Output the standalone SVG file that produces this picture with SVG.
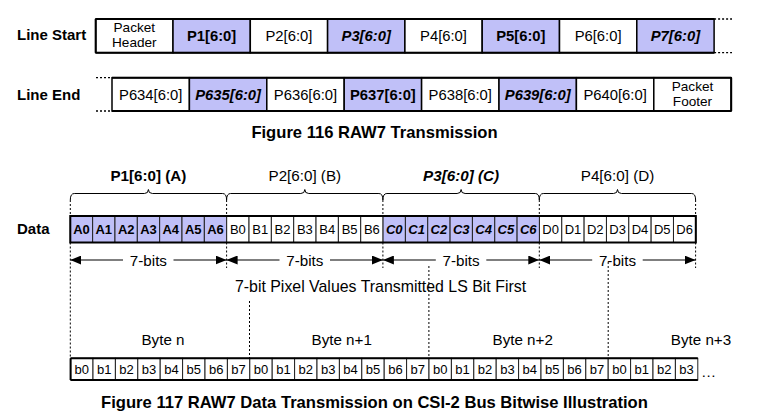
<svg xmlns="http://www.w3.org/2000/svg" width="778" height="420" viewBox="0 0 778 420">
<defs>
<style>
text{font-family:"Liberation Sans",Arial,sans-serif;fill:#000}
.lbl{font-size:15px;font-weight:bold}
.cap{font-size:16.6px;font-weight:bold;text-anchor:middle}
.ct{font-size:14.8px;text-anchor:middle}
.b{font-weight:bold}
.bi{font-weight:bold;font-style:italic}
.hd{font-size:13.6px;text-anchor:middle}
.dt{font-size:13px;text-anchor:middle}
.pl{font-size:15.2px;text-anchor:middle}
.cw{fill:#fff;stroke:#000;stroke-width:1.5}
.cp{fill:#c0c0f8;stroke:#000;stroke-width:1.5}
.dc{fill:#fff;stroke:#222;stroke-width:1}
.dp{fill:#c0c0f8;stroke:#222;stroke-width:1}
.outer{fill:none;stroke:#000;stroke-width:2}
.dot{stroke:#000;stroke-width:1;stroke-dasharray:2,2;fill:none}
.dot2{stroke:#000;stroke-width:1.3;stroke-dasharray:2,2;fill:none}
.ln{stroke:#000;stroke-width:1.2;fill:none}
.brace{stroke:#000;stroke-width:1;fill:none}
</style>
<marker id="ah" viewBox="0 0 11 9" refX="11" refY="4.5" markerWidth="11" markerHeight="9" markerUnits="userSpaceOnUse" orient="auto-start-reverse">
<path d="M0,0 L11,4.5 L0,9 Z" fill="#000"/>
</marker>
</defs>

<!-- Row labels -->
<text class="lbl" x="17" y="40">Line Start</text>
<text class="lbl" x="17" y="100">Line End</text>
<text class="lbl" x="17" y="234">Data</text>

<!-- Line Start row -->
<g id="ls-header"><rect class="cw" x="95.7" y="19" width="77.3" height="33.7"/><text class="hd" x="134.3" y="32">Packet</text><text class="hd" x="134.3" y="47">Header</text></g>
<g id="ls-p1"><rect class="cp" x="173" y="19" width="77.3" height="33.7"/><text class="ct b" x="211.6" y="41.3">P1[6:0]</text></g>
<g id="ls-p2"><rect class="cw" x="250.3" y="19" width="77.3" height="33.7"/><text class="ct" x="288.9" y="41.3">P2[6:0]</text></g>
<g id="ls-p3"><rect class="cp" x="327.6" y="19" width="77.3" height="33.7"/><text class="ct bi" x="366.2" y="41.3">P3[6:0]</text></g>
<g id="ls-p4"><rect class="cw" x="404.9" y="19" width="77.3" height="33.7"/><text class="ct" x="443.5" y="41.3">P4[6:0]</text></g>
<g id="ls-p5"><rect class="cp" x="482.2" y="19" width="77.3" height="33.7"/><text class="ct b" x="520.8" y="41.3">P5[6:0]</text></g>
<g id="ls-p6"><rect class="cw" x="559.5" y="19" width="77.3" height="33.7"/><text class="ct" x="598.1" y="41.3">P6[6:0]</text></g>
<g id="ls-p7"><rect class="cp" x="636.8" y="19" width="77.3" height="33.7"/><text class="ct bi" x="675.4" y="41.3">P7[6:0]</text></g>
<path class="outer" d="M95.7,19 H714.1 M95.7,52.7 H714.1 M95.7,19 V52.7"/>
<path class="dot2" d="M714.1,19 H732 M714.1,52.7 H732"/>

<!-- Line End row -->
<g id="le-p634"><rect class="cw" x="112" y="77.7" width="77.4" height="33.3"/><text class="ct" x="150.7" y="99.7">P634[6:0]</text></g>
<g id="le-p635"><rect class="cp" x="189.4" y="77.7" width="77.4" height="33.3"/><text class="ct bi" x="228.1" y="99.7">P635[6:0]</text></g>
<g id="le-p636"><rect class="cw" x="266.8" y="77.7" width="77.4" height="33.3"/><text class="ct" x="305.5" y="99.7">P636[6:0]</text></g>
<g id="le-p637"><rect class="cp" x="344.2" y="77.7" width="77.4" height="33.3"/><text class="ct b" x="382.9" y="99.7">P637[6:0]</text></g>
<g id="le-p638"><rect class="cw" x="421.6" y="77.7" width="77.4" height="33.3"/><text class="ct" x="460.3" y="99.7">P638[6:0]</text></g>
<g id="le-p639"><rect class="cp" x="499" y="77.7" width="77.4" height="33.3"/><text class="ct bi" x="537.7" y="99.7">P639[6:0]</text></g>
<g id="le-p640"><rect class="cw" x="576.4" y="77.7" width="77.4" height="33.3"/><text class="ct" x="615.1" y="99.7">P640[6:0]</text></g>
<g id="le-footer"><rect class="cw" x="653.8" y="77.7" width="77.4" height="33.3"/><text class="hd" x="692.5" y="90.7">Packet</text><text class="hd" x="692.5" y="105.7">Footer</text></g>
<path class="outer" d="M112,77.7 H731.2 M112,111 H731.2 M731.2,77.7 V111"/>
<path class="dot2" d="M96,77.7 H112 M96,111 H112"/>

<text class="cap" x="374.5" y="137.5">Figure 116 RAW7 Transmission</text>

<!-- Pixel labels -->
<text class="pl b" x="148.4" y="181">P1[6:0] (A)</text>
<text class="pl" x="304.8" y="181">P2[6:0] (B)</text>
<text class="pl bi" x="461.1" y="181">P3[6:0] (C)</text>
<text class="pl" x="617.5" y="181">P4[6:0] (D)</text>

<!-- Braces -->
<g id="braces">
<path class="brace" d="M70.3,200 Q70.3,193.5 74.3,193.5 H144.4 Q148.4,193.5 148.4,189.5 Q148.4,193.5 152.4,193.5 H222.6 Q226.6,193.5 226.6,200"/>
<path class="brace" d="M226.6,200 Q226.6,193.5 230.6,193.5 H300.8 Q304.8,193.5 304.8,189.5 Q304.8,193.5 308.8,193.5 H378.9 Q382.9,193.5 382.9,200"/>
<path class="brace" d="M382.9,200 Q382.9,193.5 386.9,193.5 H457.1 Q461.1,193.5 461.1,189.5 Q461.1,193.5 465.1,193.5 H535.3 Q539.3,193.5 539.3,200"/>
<path class="brace" d="M539.3,200 Q539.3,193.5 543.3,193.5 H613.5 Q617.5,193.5 617.5,189.5 Q617.5,193.5 621.5,193.5 H691.6 Q695.6,193.5 695.6,200"/>
</g>

<!-- Data cells -->
<g id="data-a">
<rect class="dp" x="70.3" y="216" width="22.34" height="26.5"/><text class="dt b" x="81.5" y="234">A0</text>
<rect class="dp" x="92.64" y="216" width="22.34" height="26.5"/><text class="dt b" x="103.8" y="234">A1</text>
<rect class="dp" x="114.98" y="216" width="22.34" height="26.5"/><text class="dt b" x="126.2" y="234">A2</text>
<rect class="dp" x="137.32" y="216" width="22.34" height="26.5"/><text class="dt b" x="148.5" y="234">A3</text>
<rect class="dp" x="159.66" y="216" width="22.34" height="26.5"/><text class="dt b" x="170.8" y="234">A4</text>
<rect class="dp" x="182" y="216" width="22.34" height="26.5"/><text class="dt b" x="193.2" y="234">A5</text>
<rect class="dp" x="204.34" y="216" width="22.34" height="26.5"/><text class="dt b" x="215.5" y="234">A6</text>
</g>
<g id="data-b">
<rect class="dc" x="226.68" y="216" width="22.34" height="26.5"/><text class="dt" x="237.9" y="234">B0</text>
<rect class="dc" x="249.02" y="216" width="22.34" height="26.5"/><text class="dt" x="260.2" y="234">B1</text>
<rect class="dc" x="271.36" y="216" width="22.34" height="26.5"/><text class="dt" x="282.5" y="234">B2</text>
<rect class="dc" x="293.7" y="216" width="22.34" height="26.5"/><text class="dt" x="304.9" y="234">B3</text>
<rect class="dc" x="316.04" y="216" width="22.34" height="26.5"/><text class="dt" x="327.2" y="234">B4</text>
<rect class="dc" x="338.38" y="216" width="22.34" height="26.5"/><text class="dt" x="349.6" y="234">B5</text>
<rect class="dc" x="360.72" y="216" width="22.34" height="26.5"/><text class="dt" x="371.9" y="234">B6</text>
</g>
<g id="data-c">
<rect class="dp" x="383.06" y="216" width="22.34" height="26.5"/><text class="dt bi" x="394.2" y="234">C0</text>
<rect class="dp" x="405.4" y="216" width="22.34" height="26.5"/><text class="dt bi" x="416.6" y="234">C1</text>
<rect class="dp" x="427.74" y="216" width="22.34" height="26.5"/><text class="dt bi" x="438.9" y="234">C2</text>
<rect class="dp" x="450.08" y="216" width="22.34" height="26.5"/><text class="dt bi" x="461.3" y="234">C3</text>
<rect class="dp" x="472.42" y="216" width="22.34" height="26.5"/><text class="dt bi" x="483.6" y="234">C4</text>
<rect class="dp" x="494.76" y="216" width="22.34" height="26.5"/><text class="dt bi" x="505.9" y="234">C5</text>
<rect class="dp" x="517.1" y="216" width="22.34" height="26.5"/><text class="dt bi" x="528.3" y="234">C6</text>
</g>
<g id="data-d">
<rect class="dc" x="539.44" y="216" width="22.34" height="26.5"/><text class="dt" x="550.6" y="234">D0</text>
<rect class="dc" x="561.78" y="216" width="22.34" height="26.5"/><text class="dt" x="573" y="234">D1</text>
<rect class="dc" x="584.12" y="216" width="22.34" height="26.5"/><text class="dt" x="595.3" y="234">D2</text>
<rect class="dc" x="606.46" y="216" width="22.34" height="26.5"/><text class="dt" x="617.6" y="234">D3</text>
<rect class="dc" x="628.8" y="216" width="22.34" height="26.5"/><text class="dt" x="640" y="234">D4</text>
<rect class="dc" x="651.14" y="216" width="22.34" height="26.5"/><text class="dt" x="662.3" y="234">D5</text>
<rect class="dc" x="673.48" y="216" width="22.34" height="26.5"/><text class="dt" x="684.6" y="234">D6</text>
</g>
<rect class="outer" x="70.3" y="216" width="625.5" height="26.5"/>

<!-- Connectors: dotted guides and 7-bit arrows -->
<g id="connectors">
<path class="dot" d="M70.3,200 V216 M70.3,242.5 V357"/>
<path class="dot" d="M226.6,200 V216 M226.6,242.5 V268"/>
<path class="dot" d="M382.9,200 V216 M382.9,242.5 V268"/>
<path class="dot" d="M539.3,200 V216 M539.3,242.5 V268"/>
<path class="dot" d="M695.6,200 V216 M695.6,242.5 V268"/>
<path class="dot" d="M249.5,301 V358"/>
<path class="dot" d="M428.9,266 V358"/>
<path class="dot" d="M608.2,262 V358"/>
<path class="ln" marker-start="url(#ah)" d="M70.3,260 H123"/>
<path class="ln" marker-end="url(#ah)" d="M173.5,260 H226.6"/>
<path class="ln" marker-start="url(#ah)" d="M226.6,260 H279.5"/>
<path class="ln" marker-end="url(#ah)" d="M330,260 H382.9"/>
<path class="ln" marker-start="url(#ah)" d="M382.9,260 H435.8"/>
<path class="ln" marker-end="url(#ah)" d="M486.3,260 H539.3"/>
<path class="ln" marker-start="url(#ah)" d="M539.3,260 H592.2"/>
<path class="ln" marker-end="url(#ah)" d="M642.7,260 H695.6"/>
</g>
<text class="pl" x="148.4" y="265.5">7-bits</text>
<text class="pl" x="304.8" y="265.5">7-bits</text>
<text class="pl" x="461.1" y="265.5">7-bits</text>
<text class="pl" x="617.5" y="265.5">7-bits</text>

<text class="pl" x="380.5" y="292" style="font-size:15.9px">7-bit Pixel Values Transmitted LS Bit First</text>

<!-- Byte labels -->
<text class="pl" x="163" y="345">Byte n</text>
<text class="pl" x="341.7" y="345">Byte n+1</text>
<text class="pl" x="522.7" y="345">Byte n+2</text>
<text class="pl" x="701" y="345">Byte n+3</text>

<!-- Byte cells -->
<g id="byte-n">
<rect class="dc" x="70.6" y="358.3" width="22.4" height="21.7"/><text class="dt" x="81.8" y="374.3">b0</text>
<rect class="dc" x="93" y="358.3" width="22.4" height="21.7"/><text class="dt" x="104.2" y="374.3">b1</text>
<rect class="dc" x="115.4" y="358.3" width="22.4" height="21.7"/><text class="dt" x="126.6" y="374.3">b2</text>
<rect class="dc" x="137.8" y="358.3" width="22.4" height="21.7"/><text class="dt" x="149" y="374.3">b3</text>
<rect class="dc" x="160.2" y="358.3" width="22.4" height="21.7"/><text class="dt" x="171.4" y="374.3">b4</text>
<rect class="dc" x="182.6" y="358.3" width="22.4" height="21.7"/><text class="dt" x="193.8" y="374.3">b5</text>
<rect class="dc" x="205" y="358.3" width="22.4" height="21.7"/><text class="dt" x="216.2" y="374.3">b6</text>
<rect class="dc" x="227.4" y="358.3" width="22.4" height="21.7"/><text class="dt" x="238.6" y="374.3">b7</text>
</g>
<g id="byte-n1">
<rect class="dc" x="249.8" y="358.3" width="22.4" height="21.7"/><text class="dt" x="261" y="374.3">b0</text>
<rect class="dc" x="272.2" y="358.3" width="22.4" height="21.7"/><text class="dt" x="283.4" y="374.3">b1</text>
<rect class="dc" x="294.6" y="358.3" width="22.4" height="21.7"/><text class="dt" x="305.8" y="374.3">b2</text>
<rect class="dc" x="317" y="358.3" width="22.4" height="21.7"/><text class="dt" x="328.2" y="374.3">b3</text>
<rect class="dc" x="339.4" y="358.3" width="22.4" height="21.7"/><text class="dt" x="350.6" y="374.3">b4</text>
<rect class="dc" x="361.8" y="358.3" width="22.4" height="21.7"/><text class="dt" x="373" y="374.3">b5</text>
<rect class="dc" x="384.2" y="358.3" width="22.4" height="21.7"/><text class="dt" x="395.4" y="374.3">b6</text>
<rect class="dc" x="406.6" y="358.3" width="22.4" height="21.7"/><text class="dt" x="417.8" y="374.3">b7</text>
</g>
<g id="byte-n2">
<rect class="dc" x="429" y="358.3" width="22.4" height="21.7"/><text class="dt" x="440.2" y="374.3">b0</text>
<rect class="dc" x="451.4" y="358.3" width="22.4" height="21.7"/><text class="dt" x="462.6" y="374.3">b1</text>
<rect class="dc" x="473.8" y="358.3" width="22.4" height="21.7"/><text class="dt" x="485" y="374.3">b2</text>
<rect class="dc" x="496.2" y="358.3" width="22.4" height="21.7"/><text class="dt" x="507.4" y="374.3">b3</text>
<rect class="dc" x="518.6" y="358.3" width="22.4" height="21.7"/><text class="dt" x="529.8" y="374.3">b4</text>
<rect class="dc" x="541" y="358.3" width="22.4" height="21.7"/><text class="dt" x="552.2" y="374.3">b5</text>
<rect class="dc" x="563.4" y="358.3" width="22.4" height="21.7"/><text class="dt" x="574.6" y="374.3">b6</text>
<rect class="dc" x="585.8" y="358.3" width="22.4" height="21.7"/><text class="dt" x="597" y="374.3">b7</text>
</g>
<g id="byte-n3">
<rect class="dc" x="608.2" y="358.3" width="22.4" height="21.7"/><text class="dt" x="619.4" y="374.3">b0</text>
<rect class="dc" x="630.6" y="358.3" width="22.4" height="21.7"/><text class="dt" x="641.8" y="374.3">b1</text>
<rect class="dc" x="653" y="358.3" width="22.4" height="21.7"/><text class="dt" x="664.2" y="374.3">b2</text>
<rect class="dc" x="675.4" y="358.3" width="22.4" height="21.7"/><text class="dt" x="686.6" y="374.3">b3</text>
</g>
<path class="outer" d="M70.6,358.3 H697.8 M70.6,380 H697.8 M70.6,358.3 V380"/>
<text class="pl" x="708.5" y="377">…</text>

<text class="cap" x="374.5" y="408">Figure 117 RAW7 Data Transmission on CSI-2 Bus Bitwise Illustration</text>
</svg>
